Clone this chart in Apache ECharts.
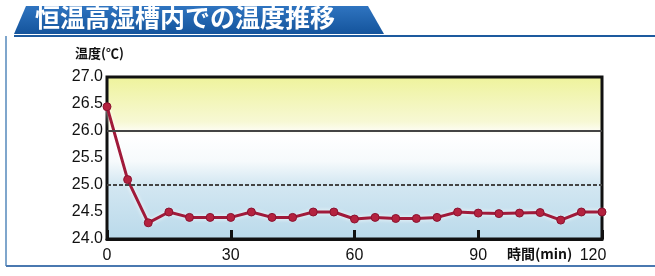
<!DOCTYPE html>
<html lang="ja">
<head>
<meta charset="UTF-8" />
<title>恒温高湿槽内での温度推移</title>
<script src="https://cdn.jsdelivr.net/npm/echarts@6/dist/echarts.min.js"></script>
<style>
  html, body { margin: 0; padding: 0; background: #fff; }
  #chart { width: 655px; height: 276px; }
</style>
</head>
<body>
<div id="chart"></div>
<script>
  // 経過時間(分)と温度(℃)
  const minutes = [0, 5, 10, 15, 20, 25, 30, 35, 40, 45, 50, 55, 60,
                   65, 70, 75, 80, 85, 90, 95, 100, 105, 110, 115, 120];
  const temps = [26.45, 25.1, 24.3, 24.5, 24.4, 24.4, 24.4, 24.5, 24.4, 24.4, 24.5, 24.5, 24.37,
                 24.4, 24.38, 24.38, 24.4, 24.5, 24.48, 24.47, 24.48, 24.49, 24.35, 24.5, 24.5];
  const xTicks = [0, 30, 60, 90, 120];
  const refLines = [26.0, 25.0];

  const chart = echarts.init(document.getElementById('chart'));
  const font = "'Liberation Sans', Arial, sans-serif";
  const jp = "'Noto Sans CJK JP', sans-serif";

  const option = {
    animation: false,
    grid: {
      left: 107, right: 53, top: 77, bottom: 37,
      show: true,
      borderColor: '#111',
      borderWidth: 3,
      backgroundColor: new echarts.graphic.LinearGradient(0, 0, 0, 1, [
        { offset: 0, color: '#eef39a' },
        { offset: 0.28, color: '#f7f8d4' },
        { offset: 0.36, color: '#ffffff' },
        { offset: 0.52, color: '#f6fafc' },
        { offset: 0.66, color: '#d3e7f2' },
        { offset: 1, color: '#b9d9ea' }
      ])
    },
    xAxis: {
      type: 'value',
      z: 5,
      min: 0, max: 120, interval: 30,
      axisLine: { show: true, lineStyle: { color: '#111', width: 3 } },
      axisTick: { show: true, inside: true, length: 9, lineStyle: { color: '#111', width: 3 } },
      splitLine: { show: false },
      axisLabel: {
        margin: 9,
        fontFamily: font, fontSize: 16, color: '#111',
        formatter: v => xTicks.includes(v) ? (v === 120 ? '{r|' + v + '}' : String(v)) : '',
        rich: { r: { fontFamily: font, fontSize: 16, color: '#111', padding: [0, 18, 0, 0] } }
      }
    },
    yAxis: {
      type: 'value',
      min: 24, max: 27, interval: 0.5,
      axisLine: { show: false },
      axisTick: { show: false },
      splitLine: { show: false },
      axisLabel: {
        margin: 4,
        fontFamily: font, fontSize: 16, color: '#111',
        formatter: v => v.toFixed(1)
      }
    },
    graphic: [
      // 見出しのタブ
      {
        type: 'polygon', z: 1,
        shape: { points: [[26, 6], [368, 6], [384, 34], [14, 34]] },
        style: {
          fill: new echarts.graphic.LinearGradient(0, 0, 0, 1, [
            { offset: 0, color: '#2f74c0' }, { offset: 1, color: '#14549c' }
          ])
        }
      },
      { type: 'line', shape: { x1: 14, y1: 36, x2: 655, y2: 36 }, style: { stroke: '#1d5a9e', lineWidth: 2 } },
      { type: 'line', shape: { x1: 6, y1: 36, x2: 6, y2: 266 }, style: { stroke: '#7fa6cc', lineWidth: 2 } },
      { type: 'line', shape: { x1: 6, y1: 266, x2: 655, y2: 266 }, style: { stroke: '#4a78b0', lineWidth: 2 } },
      {
        type: 'text', left: 35, top: 5, z: 2,
        style: { text: '恒温高湿槽内での温度推移', fill: '#fff', font: 'bold 25px ' + jp }
      },
      {
        type: 'text', left: 75, top: 47,
        style: { text: '温度(℃)', fill: '#111', font: 'bold 13px ' + jp }
      },
      {
        type: 'text', left: 507, top: 247,
        style: { text: '時間(min)', fill: '#111', font: 'bold 14px ' + jp }
      }
    ],
    series: [{
      type: 'line',
      data: minutes.map((m, i) => [m, temps[i]]),
      symbol: 'circle',
      symbolSize: 8,
      lineStyle: { color: '#a01a3a', width: 3, shadowColor: 'rgba(255,255,255,0.9)', shadowBlur: 4 },
      itemStyle: { color: '#b4223f', borderColor: '#8a1230', borderWidth: 1 },
      markLine: {
        silent: true,
        symbol: 'none',
        label: { show: false },
        data: [
          { yAxis: refLines[0], lineStyle: { color: '#444', width: 2, type: 'solid' } },
          { yAxis: refLines[1], lineStyle: { color: '#444', width: 2, type: [4, 2] } }
        ]
      }
    }]
  };

  chart.setOption(option);
</script>
</body>
</html>
